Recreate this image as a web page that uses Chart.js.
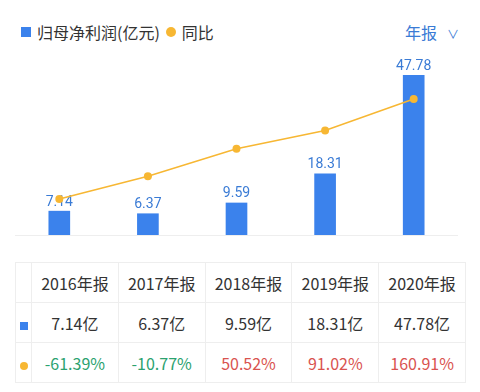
<!DOCTYPE html>
<html>
<head>
<meta charset="utf-8">
<script src="https://cdn.jsdelivr.net/npm/chart.js@4"></script>
<style>
  body { margin: 0; width: 480px; height: 392px; background: #fff; position: relative; overflow: hidden;
         font-family: "Noto Sans CJK SC", "Noto Sans", sans-serif; }
  .legend { position: absolute; top: 20px; left: 21px; font-size: 16px; color: #333; display: flex; align-items: center; }
  .legend .sq { width: 10px; height: 10px; background: #3b82ec; margin-right: 6px; }
  .legend .dot { width: 10px; height: 10px; border-radius: 50%; background: #f7b733; margin: 0 6px 0 6px; }
  .period { position: absolute; top: 20px; left: 405px; font-size: 16px; color: #3a7bd5; }
  .period span { font-size: 12px; margin-left: 10px; color: #3a7bd5; }
  .chart-box { position: absolute; top: 50px; left: 0; width: 480px; height: 200px; }
  table { position: absolute; top: 262px; left: 15px; width: 451px; border-collapse: collapse; }
  td { border: 1px solid #eeeeee; height: 39px; text-align: center; font-size: 16px; color: #333;
       font-family: "Noto Sans CJK SC", sans-serif; padding: 0; }
  td.first { width: 15px; }
  .mk-sq { display: inline-block; width: 8px; height: 8px; background: #3b82ec; }
  .mk-dot { display: inline-block; width: 8px; height: 8px; border-radius: 50%; background: #f7b733; }
  .up { color: #d9534f; }
  .down { color: #2ba26f; }
</style>
</head>
<body>
<div class="legend"><div class="sq"></div>归母净利润(亿元)<div class="dot"></div>同比</div>
<div class="period">年报<span>∨</span></div>
<div class="chart-box"><canvas id="c"></canvas></div>
<table id="tbl"></table>
<script>
const years = ['2016年报', '2017年报', '2018年报', '2019年报', '2020年报'];
const profit = [7.14, 6.37, 9.59, 18.31, 47.78];
const yoy = [-61.39, -10.77, 50.52, 91.02, 160.91];

const barColor = '#3b82ec';
const lineColor = '#f7b733';

// table under the chart
const tbl = document.getElementById('tbl');
let html = '<tr><td class="first"></td>';
years.forEach(y => { html += '<td>' + y + '</td>'; });
html += '</tr><tr><td class="first"><span class="mk-sq"></span></td>';
profit.forEach(v => { html += '<td>' + v.toFixed(2) + '亿</td>'; });
html += '</tr><tr><td class="first"><span class="mk-dot"></span></td>';
yoy.forEach(v => { html += '<td class="' + (v < 0 ? 'down' : 'up') + '">' + v.toFixed(2) + '%</td>'; });
html += '</tr>';
tbl.innerHTML = html;

const valueLabels = {
  id: 'valueLabels',
  beforeDatasetsDraw(chart) {
    const ctx = chart.ctx;
    const area = chart.chartArea;
    ctx.save();
    ctx.strokeStyle = '#eeeeee';
    ctx.lineWidth = 1;
    ctx.beginPath();
    ctx.moveTo(area.left, area.bottom + 0.5);
    ctx.lineTo(area.right, area.bottom + 0.5);
    ctx.stroke();
    ctx.restore();
  },
  afterDatasetDraw(chart, args) {
    if (args.index !== 1) return;
    const ctx = chart.ctx;
    const meta = chart.getDatasetMeta(1);
    ctx.save();
    ctx.fillStyle = '#3a7bd5';
    ctx.font = '14px Roboto, sans-serif';
    ctx.textAlign = 'center';
    ctx.textBaseline = 'bottom';
    meta.data.forEach((bar, i) => {
      ctx.fillText(profit[i].toFixed(2), bar.x, bar.y - 2);
    });
    ctx.restore();
  }
};

new Chart(document.getElementById('c'), {
  data: {
    labels: years,
    datasets: [
      {
        type: 'line',
        data: yoy,
        yAxisID: 'y2',
        borderColor: lineColor,
        borderWidth: 1.5,
        backgroundColor: lineColor,
        pointRadius: 4,
        pointBackgroundColor: lineColor,
        pointBorderWidth: 0,
        order: 0
      },
      {
        type: 'bar',
        data: profit,
        yAxisID: 'y',
        backgroundColor: barColor,
        barThickness: 21,
        order: 1
      }
    ]
  },
  options: {
    responsive: true,
    maintainAspectRatio: false,
    animation: false,
    layout: { padding: { left: 15, right: 22, top: 10, bottom: 15 } },
    plugins: { legend: { display: false }, tooltip: { enabled: false } },
    scales: {
      x: { display: false },
      y: { display: false, min: 0, max: 52.4 },
      y2: { display: false, min: -141.4, max: 247.6 }
    }
  },
  plugins: [valueLabels]
});
</script>
</body>
</html>
